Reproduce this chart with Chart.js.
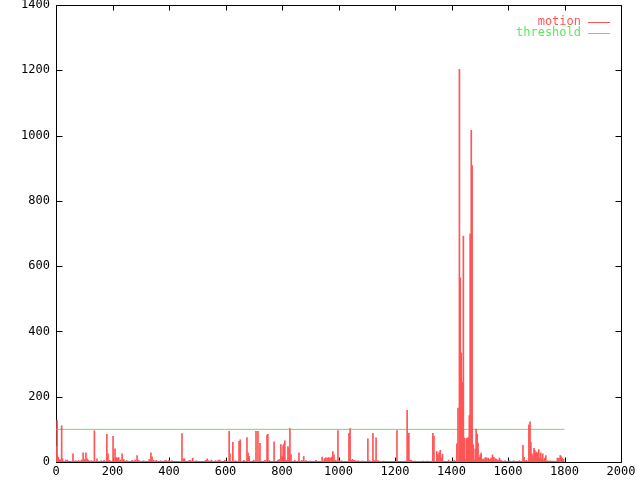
<!DOCTYPE html>
<html>
<head>
<meta charset="utf-8">
<script src="https://cdn.jsdelivr.net/npm/chart.js@4.4.0/dist/chart.umd.min.js"></script>
<style>
  html, body { margin: 0; padding: 0; background: #fff; }
</style>
</head>
<body>
<canvas id="motion-chart" width="640" height="480"></canvas>
<script>
// Frame numbers and motion value per frame
const frames = [
    0, 4, 8, 12, 15, 20, 23, 35, 40, 60, 70, 80, 90, 96, 100, 106, 110, 115, 125, 136,
    145, 160, 170, 180, 184, 190, 202, 209, 213, 217, 222, 228, 234, 240, 250, 270, 280, 287, 292, 310,
    330, 336, 340, 345, 355, 370, 385, 390, 400, 410, 446, 450, 455, 470, 475, 484, 497, 530, 535, 540,
    550, 565, 575, 580, 598, 613, 616, 626, 635, 648, 652, 665, 676, 680, 684, 700, 708, 715, 722, 740,
    747, 750, 755, 772, 785, 790, 796, 800, 804, 807, 810, 815, 821, 825, 828, 832, 845, 860, 870, 877,
    885, 900, 920, 942, 950, 955, 960, 965, 970, 975, 980, 984, 990, 998, 1002, 1010, 1037, 1041, 1045, 1050,
    1055, 1060, 1070, 1085, 1104, 1110, 1122, 1126, 1133, 1140, 1160, 1207, 1243, 1246, 1249, 1253, 1258, 1270, 1300, 1315,
    1334, 1338, 1348, 1352, 1356, 1360, 1364, 1368, 1390, 1410, 1419, 1423, 1428, 1431, 1435, 1438, 1442, 1445, 1449, 1452,
    1456, 1459, 1463, 1466, 1470, 1473, 1477, 1480, 1484, 1487, 1491, 1494, 1498, 1502, 1505, 1510, 1515, 1520, 1525, 1530,
    1535, 1540, 1545, 1550, 1555, 1560, 1565, 1570, 1575, 1580, 1590, 1605, 1620, 1640, 1653, 1657, 1665, 1674, 1678, 1681,
    1685, 1688, 1692, 1695, 1698, 1702, 1705, 1709, 1712, 1716, 1719, 1723, 1726, 1730, 1734, 1740, 1750, 1760, 1775, 1780,
    1785, 1788, 1792, 1797
];
const motion = [
    48, 127, 15, 8, 6, 111, 10, 6, 6, 25, 4, 5, 6, 28, 8, 28, 10, 6, 4, 96,
    10, 4, 5, 85, 25, 5, 79, 40, 14, 12, 14, 6, 25, 8, 5, 5, 6, 20, 6, 4,
    8, 28, 16, 6, 5, 4, 4, 5, 5, 4, 87, 10, 10, 4, 5, 12, 4, 5, 10, 4,
    6, 4, 6, 6, 5, 94, 25, 60, 4, 63, 68, 5, 75, 28, 17, 6, 94, 94, 57, 5,
    82, 85, 5, 62, 5, 8, 53, 17, 50, 56, 65, 5, 47, 41, 102, 23, 5, 28, 5, 17,
    4, 3, 5, 15, 10, 13, 12, 14, 12, 15, 32, 22, 5, 96, 5, 4, 88, 102, 5, 8,
    5, 4, 4, 3, 71, 4, 88, 5, 74, 4, 3, 96, 158, 82, 88, 6, 5, 3, 3, 3,
    88, 79, 32, 22, 29, 36, 12, 24, 6, 5, 56, 165, 1203, 564, 334, 244, 692, 74, 8, 72,
    72, 75, 142, 699, 1016, 908, 53, 6, 40, 101, 85, 58, 15, 22, 27, 8, 10, 14, 12, 12,
    8, 12, 22, 14, 10, 8, 6, 12, 6, 3, 4, 4, 4, 4, 51, 14, 5, 114, 123, 60,
    25, 17, 42, 36, 28, 30, 25, 38, 12, 28, 8, 25, 5, 12, 20, 4, 4, 3, 12, 12,
    20, 16, 12, 8
];

// Low floor of small motion values along the whole run
const floorFrames = [0, 1800];
const floorLevel = [3, 3];

// Threshold line
const thresholdFrames = [0, 1800];
const thresholdLevel = [100, 100];

const xTicks = [0, 200, 400, 600, 800, 1000, 1200, 1400, 1600, 1800, 2000];
const yTicks = [0, 200, 400, 600, 800, 1000, 1200, 1400];

const RED = '#ff5555';
const GREEN = '#5ee85e';
const FONT = '"DejaVu Sans Mono", "Liberation Mono", monospace';

// gnuplot-like border with inward ticks on all four sides
const framePlugin = {
    id: 'frame',
    beforeDatasetsDraw(chart) {
        const { ctx, chartArea: a, scales: { x, y } } = chart;
        const l = Math.round(a.left) + 0.5, r = Math.round(a.right) + 0.5;
        const t = Math.round(a.top) + 0.5, b = Math.round(a.bottom) + 0.5;
        ctx.save();
        ctx.strokeStyle = '#000';
        ctx.lineWidth = 1;
        ctx.beginPath();
        ctx.rect(l, t, r - l, b - t);
        xTicks.forEach(v => {
            const px = Math.round(x.getPixelForValue(v)) + 0.5;
            ctx.moveTo(px, b); ctx.lineTo(px, b - 5);
            ctx.moveTo(px, t); ctx.lineTo(px, t + 5);
        });
        yTicks.forEach(v => {
            const py = Math.round(y.getPixelForValue(v)) + 0.5;
            ctx.moveTo(l, py); ctx.lineTo(l + 6, py);
            ctx.moveTo(r, py); ctx.lineTo(r - 6, py);
        });
        ctx.stroke();
        ctx.restore();
    }
};

// Key in the top right corner: label right-aligned, line sample after it
const keyPlugin = {
    id: 'key',
    afterDraw(chart) {
        const { ctx } = chart;
        const entries = [
            { label: chart.data.datasets[0].label, color: RED, y: 21.5 },
            { label: chart.data.datasets[2].label, color: GREEN, y: 32.5 },
        ];
        ctx.save();
        ctx.font = '12px ' + FONT;
        ctx.textAlign = 'right';
        ctx.textBaseline = 'middle';
        ctx.lineWidth = 1;
        entries.forEach(e => {
            ctx.fillStyle = e.color;
            ctx.fillText(e.label, 581, e.y);
            ctx.strokeStyle = e.color;
            ctx.beginPath();
            ctx.moveTo(588, Math.round(e.y) + 0.5);
            ctx.lineTo(610, Math.round(e.y) + 0.5);
            ctx.stroke();
        });
        ctx.restore();
    }
};

const plainNumber = v => String(v);

new Chart('motion-chart', {
    type: 'bar',
    data: {
        datasets: [
            {
                label: 'motion',
                data: frames.map((f, i) => ({ x: f, y: motion[i] })),
                backgroundColor: RED,
                borderWidth: 0,
                barThickness: 1,
                grouped: false,
            },
            {
                type: 'line',
                label: 'floor',
                data: floorFrames.map((f, i) => ({ x: f, y: floorLevel[i] })),
                borderColor: RED,
                backgroundColor: RED,
                borderWidth: 0,
                fill: 'origin',
                pointRadius: 0,
            },
            {
                type: 'line',
                label: 'threshold',
                data: thresholdFrames.map((f, i) => ({ x: f, y: thresholdLevel[i] })),
                borderColor: GREEN,
                borderWidth: 1,
                fill: false,
                pointRadius: 0,
            }
        ]
    },
    options: {
        responsive: false,
        animation: false,
        layout: { padding: { top: 5, right: 19, left: 0, bottom: 0 } },
        plugins: {
            legend: { display: false },
            tooltip: { enabled: false },
        },
        scales: {
            x: {
                type: 'linear',
                min: 0,
                max: 2000,
                offset: false,
                grid: { display: false, drawTicks: false },
                border: { display: false },
                afterFit: s => { s.height = 18; s.paddingLeft = 0; s.paddingRight = 0; },
                ticks: {
                    stepSize: 200,
                    autoSkip: false,
                    maxRotation: 0,
                    padding: 3,
                    color: '#000',
                    font: { family: FONT, size: 12 },
                    callback: plainNumber,
                }
            },
            y: {
                type: 'linear',
                min: 0,
                max: 1400,
                grid: { display: false, drawTicks: false },
                border: { display: false },
                afterFit: s => { s.width = 56; s.paddingTop = 0; s.paddingBottom = 0; },
                ticks: {
                    stepSize: 200,
                    autoSkip: false,
                    padding: 6,
                    color: '#000',
                    font: { family: FONT, size: 12, lineHeight: 1 },
                    callback: plainNumber,
                }
            }
        }
    },
    plugins: [framePlugin, keyPlugin]
});
</script>
</body>
</html>
